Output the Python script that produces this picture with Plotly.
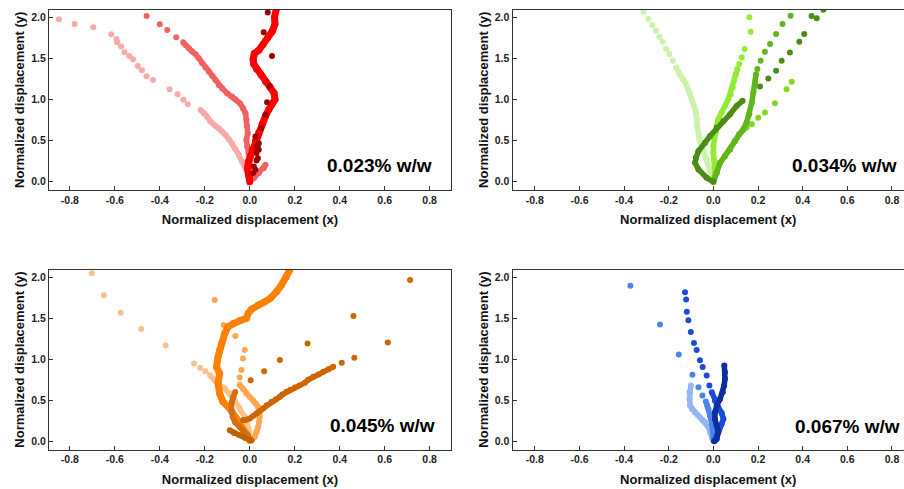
import plotly.graph_objects as go

# ---------------- data ----------------
# Panel 0.023% w/w (reds)
r_pale_sp_x = [-0.849, -0.779, -0.696, -0.616, -0.593, -0.590, -0.572, -0.557, -0.536, -0.519, -0.498, -0.480, -0.459, -0.430, -0.357, -0.321, -0.295, -0.276]
r_pale_sp_y = [1.976, 1.919, 1.879, 1.794, 1.737, 1.696, 1.644, 1.575, 1.530, 1.490, 1.409, 1.356, 1.283, 1.239, 1.126, 1.065, 0.996, 0.943]
r_pale_dn_x = [-0.219, -0.204, -0.190, -0.175, -0.153, -0.138, -0.123, -0.108, -0.093, -0.079, -0.064, -0.049, -0.034, -0.022, -0.012, -0.004, 0.0]
r_pale_dn_y = [0.874, 0.834, 0.794, 0.733, 0.680, 0.652, 0.611, 0.571, 0.518, 0.470, 0.397, 0.328, 0.247, 0.186, 0.126, 0.065, 0.010]
r_salm_sp_x = [-0.459, -0.400, -0.367, -0.327]
r_salm_sp_y = [2.016, 1.915, 1.846, 1.757]
r_salm_dn_x = [-0.296, -0.286, -0.271, -0.256, -0.241, -0.227, -0.212, -0.197, -0.182, -0.167, -0.153, -0.138, -0.123, -0.101, -0.079, -0.064, -0.044, -0.030, -0.019, -0.015, -0.012, -0.009, -0.015, -0.012, -0.004, 0.0, -0.005, 0.0, 0.018, 0.040, 0.062, 0.070]
r_salm_dn_y = [1.696, 1.664, 1.623, 1.583, 1.551, 1.502, 1.441, 1.389, 1.340, 1.287, 1.239, 1.178, 1.138, 1.077, 1.036, 1.004, 0.955, 0.895, 0.834, 0.753, 0.672, 0.591, 0.510, 0.429, 0.348, 0.250, 0.120, 0.010, 0.045, 0.105, 0.166, 0.206]
r_red_dn_x = [0.0, -0.005, -0.010, -0.005, 0.003, 0.012, 0.025, 0.040, 0.055, 0.070, 0.085, 0.100, 0.112, 0.108, 0.090, 0.070, 0.050, 0.030, 0.018, 0.015, 0.020, 0.040, 0.060, 0.080, 0.100, 0.112, 0.110, 0.118]
r_red_dn_y = [0.0, 0.08, 0.17, 0.25, 0.31, 0.40, 0.50, 0.60, 0.70, 0.80, 0.88, 0.95, 1.00, 1.08, 1.15, 1.22, 1.30, 1.37, 1.43, 1.49, 1.56, 1.60, 1.67, 1.75, 1.83, 1.92, 2.00, 2.10]
r_dark_sp_x = [0.080, 0.062, 0.099, 0.089, 0.077, 0.070, 0.050, 0.040, 0.025, 0.036, 0.033, 0.030, 0.040, 0.036, 0.030, 0.018, 0.025, 0.015]
r_dark_sp_y = [2.060, 1.818, 1.530, 1.166, 0.968, 0.814, 0.652, 0.470, 0.551, 0.410, 0.430, 0.350, 0.389, 0.287, 0.260, 0.186, 0.146, 0.105]

# Panel 0.034% w/w (greens)
g_pale_sp_x = [-0.313, -0.291, -0.273, -0.257, -0.242, -0.227, -0.212, -0.197, -0.182]
g_pale_sp_y = [2.069, 1.980, 1.907, 1.837, 1.764, 1.703, 1.614, 1.553, 1.472]
g_pale_dn_x = [-0.167, -0.152, -0.137, -0.122, -0.107, -0.097, -0.087, -0.078, -0.072, -0.072, -0.067, -0.063, -0.052, -0.042, -0.030, -0.018, -0.007, 0.0]
g_pale_dn_y = [1.390, 1.309, 1.248, 1.187, 1.085, 1.004, 0.923, 0.841, 0.760, 0.679, 0.598, 0.516, 0.435, 0.354, 0.272, 0.171, 0.089, 0.008]
g_brt_sp_x = [0.161, 0.167, 0.140, 0.127, 0.116]
g_brt_sp_y = [2.000, 1.825, 1.614, 1.512, 1.431]
g_brt_dn_x = [0.107, 0.100, 0.093, 0.087, 0.078, 0.067, 0.052, 0.037, 0.022, 0.015, 0.010, 0.003, 0.0, 0.0, 0.003, 0.007, 0.007, 0.0]
g_brt_dn_y = [1.370, 1.309, 1.228, 1.146, 1.065, 1.004, 0.923, 0.841, 0.760, 0.679, 0.598, 0.516, 0.435, 0.354, 0.272, 0.191, 0.110, 0.010]
g_lt_dn_x = [0.0, 0.015, 0.030, 0.052, 0.075, 0.097, 0.116, 0.134]
g_lt_dn_y = [0.0, 0.110, 0.232, 0.313, 0.394, 0.496, 0.577, 0.630]
g_lt_sp_x = [0.149, 0.172, 0.201, 0.231, 0.276, 0.328, 0.351]
g_lt_sp_y = [0.659, 0.699, 0.780, 0.841, 0.955, 1.126, 1.215]
g_mid_dn_x = [0.0, 0.015, 0.030, 0.052, 0.075, 0.097, 0.116, 0.134, 0.149, 0.161, 0.172, 0.179, 0.187, 0.191]
g_mid_dn_y = [0.0, 0.110, 0.232, 0.313, 0.394, 0.496, 0.577, 0.638, 0.720, 0.821, 0.963, 1.085, 1.207, 1.309]
g_mid_sp_x = [0.197, 0.212, 0.231, 0.254, 0.281, 0.310, 0.346]
g_mid_sp_y = [1.370, 1.472, 1.581, 1.675, 1.797, 1.919, 2.020]
g_dark_dn_x = [0.131, 0.104, 0.075, 0.045, 0.015, -0.015, -0.037, -0.067, -0.078, -0.082, -0.067, -0.030, 0.0]
g_dark_dn_y = [0.984, 0.923, 0.821, 0.740, 0.659, 0.557, 0.476, 0.374, 0.293, 0.232, 0.150, 0.049, 0.0]
g_dark_sp_x = [0.209, 0.246, 0.281, 0.306, 0.343, 0.385, 0.407, 0.440, 0.463, 0.493]
g_dark_sp_y = [1.159, 1.256, 1.350, 1.472, 1.573, 1.703, 1.797, 2.015, 1.988, 2.093]

# Panel 0.045% w/w (oranges)
o_peach_sp_x = [-0.703, -0.649, -0.574, -0.483, -0.374, -0.248, -0.221, -0.198]
o_peach_sp_y = [2.049, 1.780, 1.568, 1.369, 1.169, 0.949, 0.896, 0.855]
o_peach_dn_x = [-0.178, -0.156, -0.134, -0.111, -0.089, -0.067, -0.045, -0.022, -0.007, 0.0]
o_peach_dn_y = [0.807, 0.745, 0.684, 0.644, 0.582, 0.501, 0.399, 0.297, 0.175, 0.053]
o_lt_sp_x = [-0.156, -0.116, -0.064, -0.022, -0.030, -0.037, -0.045]
o_lt_sp_y = [1.723, 1.418, 1.283, 1.112, 1.010, 0.868, 0.778]
o_lt_dn_x = [-0.045, -0.030, -0.015, 0.0, 0.015, 0.027, 0.037, 0.043, 0.045, 0.042, 0.037, 0.030, 0.022, 0.010, 0.0]
o_lt_dn_y = [0.690, 0.640, 0.583, 0.540, 0.501, 0.460, 0.420, 0.360, 0.297, 0.240, 0.175, 0.110, 0.053, 0.020, 0.0]
o_or_dn_x = [0.178, 0.163, 0.141, 0.119, 0.092, 0.067, 0.037, 0.007, -0.007, -0.015, -0.045, -0.074, -0.097, -0.111, -0.126, -0.134, -0.141, -0.148, -0.134, -0.141, -0.134, -0.119, -0.089, -0.059, -0.037, -0.015, 0.0]
o_or_dn_y = [2.090, 2.008, 1.906, 1.825, 1.743, 1.703, 1.662, 1.609, 1.560, 1.499, 1.470, 1.438, 1.397, 1.316, 1.193, 1.112, 1.031, 0.910, 0.827, 0.705, 0.582, 0.481, 0.399, 0.277, 0.175, 0.094, 0.012]
o_dk_sp_x = [0.713, 0.461, 0.614, 0.257, 0.134, 0.064, 0.004, 0.465, 0.409]
o_dk_sp_y = [1.967, 1.527, 1.206, 1.193, 0.990, 0.855, 0.745, 1.018, 0.957]
o_dk_dn_x = [0.371, 0.350, 0.327, 0.305, 0.282, 0.260, 0.245, 0.220, 0.201, 0.180, 0.163, 0.145, 0.134, 0.115, 0.097, 0.075, 0.059, 0.045, 0.030, 0.015, 0.0, -0.020, -0.031]
o_dk_dn_y = [0.908, 0.880, 0.847, 0.815, 0.786, 0.750, 0.713, 0.680, 0.656, 0.630, 0.603, 0.570, 0.542, 0.510, 0.481, 0.440, 0.399, 0.370, 0.338, 0.310, 0.277, 0.260, 0.257]
o_loop_dn_x = [-0.065, -0.074, -0.080, -0.082, -0.080, -0.076, -0.065, -0.045, -0.025, -0.009, 0.0]
o_loop_dn_y = [0.600, 0.541, 0.480, 0.420, 0.360, 0.297, 0.230, 0.175, 0.120, 0.073, 0.020]
o_base_dn_x = [-0.089, -0.070, -0.045, -0.020, 0.007]
o_base_dn_y = [0.134, 0.100, 0.073, 0.040, 0.012]

# Panel 0.067% w/w (blues)
b_lt_dn_x = [-0.101, -0.107, -0.107, -0.104, -0.095, -0.082, -0.070, -0.060, -0.048, -0.037, -0.022, -0.015, -0.007, 0.0]
b_lt_dn_y = [0.679, 0.598, 0.516, 0.435, 0.390, 0.354, 0.320, 0.293, 0.260, 0.232, 0.171, 0.110, 0.049, 0.008]
b_mid_sp_x = [-0.372, -0.239, -0.155, -0.094, -0.067, -0.049, -0.034]
b_mid_sp_y = [1.898, 1.423, 1.057, 0.813, 0.659, 0.557, 0.484]
b_mid_dn_x = [-0.028, -0.022, -0.015, -0.007, 0.0, 0.0]
b_mid_dn_y = [0.440, 0.394, 0.313, 0.211, 0.110, 0.028]
b_bl_sp_x = [-0.127, -0.122, -0.119, -0.112, -0.101, -0.087, -0.075, -0.060, -0.048, -0.030, -0.018]
b_bl_sp_y = [1.817, 1.728, 1.581, 1.476, 1.333, 1.199, 1.114, 0.988, 0.907, 0.801, 0.679]
b_bl_dn_x = [-0.007, 0.007, 0.022, 0.037, 0.045, 0.037, 0.025, 0.015, 0.007]
b_bl_dn_y = [0.598, 0.496, 0.415, 0.346, 0.272, 0.211, 0.140, 0.069, 0.008]
b_dk_dn_x = [0.049, 0.052, 0.052, 0.048, 0.042, 0.030, 0.015, 0.007, 0.007, 0.015, 0.022, 0.015, 0.003]
b_dk_dn_y = [0.923, 0.841, 0.760, 0.679, 0.598, 0.516, 0.435, 0.354, 0.272, 0.191, 0.110, 0.028, 0.0]

labels = ["0.023% w/w", "0.034% w/w", "0.045% w/w", "0.067% w/w"]
x_ticks = [-0.8, -0.6, -0.4, -0.2, 0.0, 0.2, 0.4, 0.6, 0.8]
y_ticks = [0.0, 0.5, 1.0, 1.5, 2.0]

# ---------------- figure ----------------
W, H = 904, 489
fig = go.Figure()

def px_x(p):
    return p / W

def px_y(p):
    return 1 - p / H

# panel geometry in pixels: (left, right, top, bottom)
panels = [
    (49, 451, 9.5, 190),
    (512.5, 904, 9.5, 190),
    (49, 451, 269.5, 449.5),
    (512.5, 904, 269.5, 449.5),
]
x_ranges = [[-0.893, 0.895], [-0.9, 0.854], [-0.893, 0.895], [-0.9, 0.854]]
y_range = [-0.1, 2.095]

def add(k, xs, ys, color, dense=False, lw=5.5, ms=6):
    xa = "x" if k == 0 else "x%d" % (k + 1)
    ya = "y" if k == 0 else "y%d" % (k + 1)
    if dense:
        fig.add_trace(go.Scatter(x=xs, y=ys, mode="lines+markers", xaxis=xa, yaxis=ya,
                                 line=dict(color=color, width=lw),
                                 marker=dict(color=color, size=ms), showlegend=False,
                                 hoverinfo="skip"))
    else:
        fig.add_trace(go.Scatter(x=xs, y=ys, mode="markers", xaxis=xa, yaxis=ya,
                                 marker=dict(color=color, size=ms), showlegend=False,
                                 hoverinfo="skip"))

# reds
add(0, r_pale_sp_x, r_pale_sp_y, "#F8A9A9")
add(0, r_pale_dn_x, r_pale_dn_y, "#F8A9A9", dense=True)
add(0, r_salm_sp_x, r_salm_sp_y, "#F26161")
add(0, r_salm_dn_x, r_salm_dn_y, "#F26161", dense=True)
add(0, r_red_dn_x, r_red_dn_y, "#FF0000", dense=True, lw=7, ms=7)
add(0, r_dark_sp_x, r_dark_sp_y, "#9E0000")

# greens
add(1, g_pale_sp_x, g_pale_sp_y, "#CDF3AB")
add(1, g_pale_dn_x, g_pale_dn_y, "#CDF3AB", dense=True)
add(1, g_brt_sp_x, g_brt_sp_y, "#93EC34")
add(1, g_brt_dn_x, g_brt_dn_y, "#93EC34", dense=True)
add(1, g_lt_dn_x, g_lt_dn_y, "#80D824", dense=True)
add(1, g_lt_sp_x, g_lt_sp_y, "#80D824")
add(1, g_mid_dn_x, g_mid_dn_y, "#62B51A", dense=True)
add(1, g_mid_sp_x, g_mid_sp_y, "#62B51A")
add(1, g_dark_dn_x, g_dark_dn_y, "#4B8C12", dense=True)
add(1, g_dark_sp_x, g_dark_sp_y, "#4B8C12")

# oranges
add(2, o_peach_sp_x, o_peach_sp_y, "#FDC08A")
add(2, o_peach_dn_x, o_peach_dn_y, "#FDC08A", dense=True)
add(2, o_lt_sp_x, o_lt_sp_y, "#FFA74F")
add(2, o_lt_dn_x, o_lt_dn_y, "#FFA74F", dense=True)
add(2, o_or_dn_x, o_or_dn_y, "#FF8000", dense=True, lw=7, ms=7)
add(2, o_dk_sp_x, o_dk_sp_y, "#CC6600")
add(2, o_dk_dn_x, o_dk_dn_y, "#CC6600", dense=True)
add(2, o_loop_dn_x, o_loop_dn_y, "#D07010", dense=True)
add(2, o_base_dn_x, o_base_dn_y, "#C06000", dense=True)

# blues
add(3, b_lt_dn_x, b_lt_dn_y, "#96B5F6", dense=True)
add(3, b_mid_sp_x, b_mid_sp_y, "#4A82EE")
add(3, b_mid_dn_x, b_mid_dn_y, "#4A82EE", dense=True)
add(3, b_bl_sp_x, b_bl_sp_y, "#1A4BD6")
add(3, b_bl_dn_x, b_bl_dn_y, "#1A4BD6", dense=True)
add(3, b_dk_dn_x, b_dk_dn_y, "#0B2F9E", dense=True)

FONT = "Liberation Sans, Arial, sans-serif"
layout = dict(
    width=W, height=H,
    margin=dict(l=0, r=0, t=0, b=0),
    paper_bgcolor="white", plot_bgcolor="white",
    font=dict(family=FONT, color="#111"),
    showlegend=False,
)
annos = []
for k, (l, r, t, b) in enumerate(panels):
    sx = "" if k == 0 else str(k + 1)
    right_col = k in (1, 3)
    layout["xaxis" + sx] = dict(
        domain=[px_x(l), px_x(r)], anchor="y" + sx, range=x_ranges[k],
        tickmode="array", tickvals=x_ticks, ticktext=["%.1f" % v for v in x_ticks],
        ticks="inside", ticklen=4, tickcolor="#333", tickwidth=1,
        showline=True, linecolor="#333", linewidth=1, mirror=True,
        showgrid=False, zeroline=False,
        tickfont=dict(size=10.5, family=FONT, color="#222", weight="bold"),
        title=dict(text="Normalized displacement (x)", standoff=10,
                   font=dict(size=13, family=FONT, color="#111", weight="bold")),
    )
    layout["yaxis" + sx] = dict(
        domain=[px_y(b), px_y(t)], anchor="x" + sx, range=y_range,
        tickmode="array", tickvals=y_ticks, ticktext=["%.1f" % v for v in y_ticks],
        ticks="inside", ticklen=4, tickcolor="#333", tickwidth=1,
        showline=True, linecolor="#333", linewidth=1, mirror=(not right_col),
        showgrid=False, zeroline=False,
        tickfont=dict(size=10.5, family=FONT, color="#222", weight="bold"),
        title=dict(text="Normalized displacement (y)", standoff=3,
                   font=dict(size=13, family=FONT, color="#111", weight="bold")),
    )
anno_pos = [(379.5, 165), (844, 165), (382.5, 425), (847, 426)]
for k, (cx, cy) in enumerate(anno_pos):
    annos.append(dict(x=px_x(cx), y=px_y(cy), xref="paper", yref="paper",
                      text=labels[k], showarrow=False, xanchor="center", yanchor="middle",
                      font=dict(size=19, family=FONT, color="#000", weight="bold")))
layout["annotations"] = annos
fig.update_layout(**layout)
fig.write_html("out.html")
